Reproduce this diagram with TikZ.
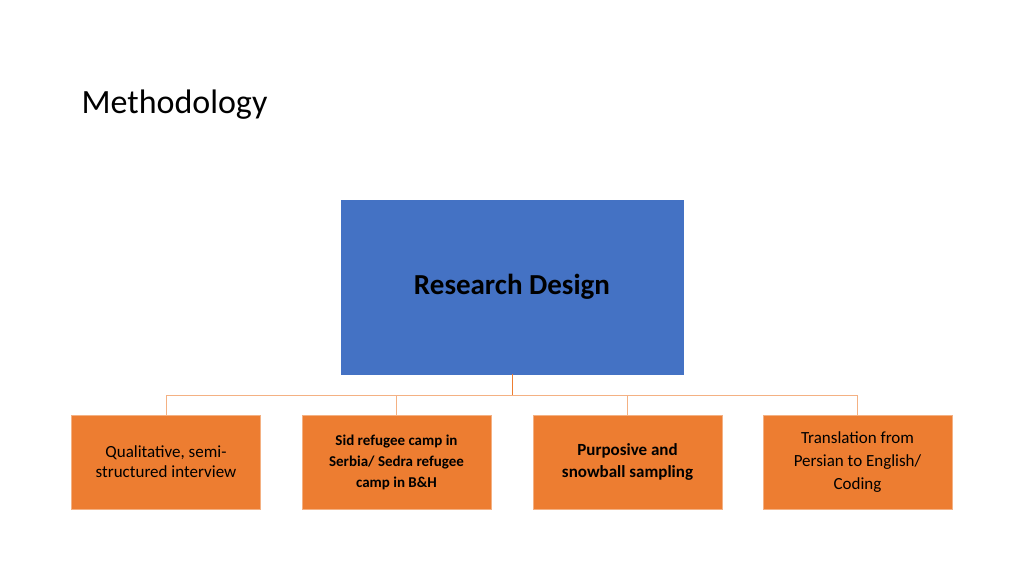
\documentclass[tikz,border=0pt]{standalone}
\usepackage{fontspec}
\setmainfont{Carlito}
\definecolor{blu}{HTML}{4472C4}
\definecolor{org}{HTML}{ED7D31}
\definecolor{lorg}{HTML}{F4B183}
\begin{document}
\begin{tikzpicture}[x=1pt,y=-1pt,
  leaf/.style={draw=lorg,line width=0.8pt,fill=org,minimum width=189pt,minimum height=94pt,align=center,inner sep=2pt,font=\fontsize{17}{20}\selectfont},
  conn/.style={draw=lorg,line width=1pt}]
\useasboundingbox (0,0) rectangle (1024,576);
\node[anchor=base west,font=\fontsize{34}{40}\selectfont] (title) at (78,113) {Methodology};
\node[draw=blu,fill=blu,minimum width=342pt,minimum height=174pt,font=\fontsize{29}{34}\selectfont\bfseries] (rd) at (512,287) {Research Design};
\node[leaf] (a) at (166,462) {Qualitative, semi-\\structured interview};
\node[leaf,font=\fontsize{15}{21}\selectfont\bfseries] (b) at (396.5,462) {Sid refugee camp in\\Serbia/ Sedra refugee\\camp in B\&H};
\node[leaf,font=\fontsize{17}{22}\selectfont\bfseries] (c) at (627.5,462) {Purposive and\\snowball sampling};
\node[leaf,font=\fontsize{17}{23}\selectfont] (d) at (857.5,462) {Translation from\\Persian to English/\\Coding};
\coordinate (j) at (512,395);
\draw[org,line width=1pt] (rd.south) -- (j);
\foreach \n in {a,b,c,d} \draw[conn] (j) -| (\n.north);
\end{tikzpicture}
\end{document}
